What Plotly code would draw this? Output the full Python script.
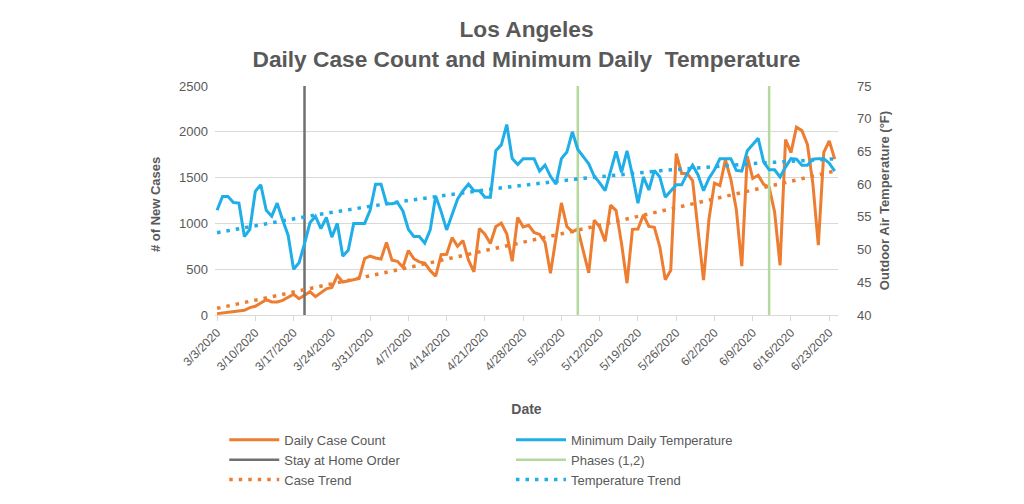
import numpy as np
import pandas as pd
import plotly.graph_objects as go

# ---- data ----
start_date = "2020-03-03"
n_days = 114
dates = pd.date_range(start_date, periods=n_days, freq="D")

daily_cases = [
    15, 22, 33, 44, 44, 51, 80, 95, 131, 167, 142, 142, 160, 197, 226, 178, 215, 255, 200, 245,
    285, 300, 430, 360, 373, 385, 400, 617, 642, 622, 611, 793, 598, 586, 522, 704, 615, 580, 566, 484,
    425, 658, 663, 845, 751, 813, 598, 471, 944, 882, 780, 966, 1002, 886, 586, 1064, 962, 980, 902, 880,
    793, 456, 845, 1224, 966, 907, 938, 690, 460, 1035, 962, 804, 1199, 1140, 780, 347, 935, 938, 1093, 966,
    957, 744, 384, 489, 1762, 1545, 1544, 1468, 944, 380, 1050, 1440, 1412, 1695, 1481, 1150, 533, 1734, 1490, 1526,
    1426, 1395, 1126, 543, 1915, 1772, 2050, 2013, 1862, 1435, 762, 1775, 1901, 1702,
]

min_temp_f = [
    56.0, 58.1, 58.1, 57.2, 57.1, 52.0, 53.1, 58.9, 59.9, 56.0, 55.1, 57.1, 54.5, 52.2, 47.0, 48.0, 50.9, 54.1, 55.1, 53.2,
    54.9, 51.9, 54.0, 49.0, 49.9, 54.0, 54.0, 54.0, 56.0, 60.0, 60.0, 57.0, 57.0, 57.2, 55.9, 53.1, 52.0, 52.0, 51.0, 53.0,
    58.2, 55.8, 53.0, 55.5, 57.7, 59.0, 60.0, 59.0, 59.0, 58.0, 58.0, 65.1, 66.0, 69.1, 63.9, 63.0, 63.9, 63.9, 63.9, 62.0,
    62.9, 61.2, 60.0, 63.9, 64.9, 68.0, 65.3, 64.2, 63.1, 61.2, 60.2, 59.0, 62.2, 65.0, 61.8, 65.1, 61.4, 57.1, 61.1, 59.1,
    62.1, 61.1, 58.0, 59.0, 59.9, 59.9, 61.6, 62.9, 61.4, 59.0, 60.9, 62.2, 63.9, 63.9, 63.9, 62.1, 62.0, 65.1, 66.0, 67.0,
    63.4, 62.2, 62.2, 61.1, 62.6, 63.9, 63.8, 62.9, 62.9, 63.8, 63.9, 63.9, 63.2, 62.0,
]

stay_at_home_date = ["2020-03-19"]
phase_dates = ["2020-05-08", "2020-06-12"]

tick_dates = pd.date_range(start_date, "2020-06-23", freq="7D")
tick_labels = [f"{d.month}/{d.day}/{d.year}" for d in tick_dates]

# trend lines (2nd order polynomial fits of the series, as in the spreadsheet chart)
day_idx = np.arange(n_days)
case_trend = np.polyval(np.polyfit(day_idx, daily_cases, 2), day_idx)
temp_trend = np.polyval(np.polyfit(day_idx, min_temp_f, 2), day_idx)

# ---- styling ----
ORANGE = "#ED7D31"
BLUE = "#1FAEE8"
GRAY = "#707070"
GREEN = "#B5D99C"
TXT = "#595959"
GRID = "#D9D9D9"
FONT = "Liberation Sans, Arial, sans-serif"

Y_MIN, Y_MAX = 0, 2500
T_MIN, T_MAX = 40, 75

fig = go.Figure()

fig.add_trace(go.Scatter(x=dates, y=daily_cases, mode="lines", name="Daily Case Count",
                         line=dict(color=ORANGE, width=3), legend="legend"))
fig.add_trace(go.Scatter(x=stay_at_home_date * 2, y=[Y_MIN, Y_MAX], mode="lines", name="Stay at Home Order",
                         line=dict(color=GRAY, width=2.5), legend="legend"))
fig.add_trace(go.Scatter(x=dates, y=case_trend, mode="lines", name="Case Trend",
                         line=dict(color=ORANGE, width=3.5, dash="3.5px,6px"), legend="legend"))

fig.add_trace(go.Scatter(x=dates, y=min_temp_f, mode="lines", name="Minimum Daily Temperature",
                         line=dict(color=BLUE, width=3), yaxis="y2", legend="legend2"))
ph_x, ph_y = [], []
for d in phase_dates:
    ph_x += [d, d, None]
    ph_y += [Y_MIN, Y_MAX, None]
fig.add_trace(go.Scatter(x=ph_x, y=ph_y, mode="lines", name="Phases (1,2)",
                         line=dict(color=GREEN, width=2.5), legend="legend2"))
fig.add_trace(go.Scatter(x=dates, y=temp_trend, mode="lines", name="Temperature Trend",
                         line=dict(color=BLUE, width=3.5, dash="3.5px,6px"), yaxis="y2", legend="legend2"))

x_lo = pd.Timestamp(start_date) - pd.Timedelta(hours=9)
x_hi = pd.Timestamp(start_date) + pd.Timedelta(days=113.6)

fig.update_layout(
    width=1024, height=504,
    margin=dict(l=215, r=186, t=86, b=189, autoexpand=False),
    paper_bgcolor="white", plot_bgcolor="white",
    font=dict(family=FONT, color=TXT, size=13),
    title=dict(text="<b>Los Angeles<br>Daily Case Count and Minimum Daily  Temperature</b>",
               x=0.5, xref="paper", xanchor="center", y=0.926, yanchor="top",
               font=dict(size=22.7, color=TXT, family=FONT)),
    xaxis=dict(type="date", range=[x_lo, x_hi], tickvals=list(tick_dates), ticktext=tick_labels,
               tickangle=-45, tickfont=dict(size=12, color=TXT), showgrid=False,
               showline=True, linecolor=GRID, linewidth=1, ticks="outside", ticklen=5, tickcolor=GRID,
               title=dict(text="<b>Date</b>", font=dict(size=14, color=TXT), standoff=31),
               zeroline=False),
    yaxis=dict(range=[Y_MIN, Y_MAX], dtick=500, tickfont=dict(size=13, color=TXT), showgrid=True,
               gridcolor=GRID, gridwidth=1, zeroline=False, showline=False, ticklabelstandoff=6),
    yaxis2=dict(range=[T_MIN, T_MAX], dtick=5, overlaying="y", side="right", showgrid=False,
                zeroline=False, showline=False, tickfont=dict(size=13, color=TXT), ticklabelstandoff=18,
                title=dict(text="<b>Outdoor Air Temperature (°F)</b>", font=dict(size=13, color=TXT), standoff=9)),
    legend=dict(xref="container", yref="container", x=0.219, y=0.157, xanchor="left", yanchor="top",
                orientation="v", font=dict(size=13, color=TXT), tracegroupgap=0, itemwidth=50,
                bgcolor="rgba(0,0,0,0)"),
    legend2=dict(xref="container", yref="container", x=0.499, y=0.157, xanchor="left", yanchor="top",
                 orientation="v", font=dict(size=13, color=TXT), tracegroupgap=0, itemwidth=50,
                 bgcolor="rgba(0,0,0,0)"),
    showlegend=True,
    annotations=[dict(text="<b># of New Cases</b>", xref="paper", yref="paper", x=-0.0963, y=0.48,
                      xanchor="center", yanchor="middle", textangle=-90, showarrow=False,
                      font=dict(size=13, color=TXT, family=FONT))],
)

fig.write_html("out.html", config={"displayModeBar": False},
               post_script="document.body.style.margin='0';document.body.style.padding='0';")
